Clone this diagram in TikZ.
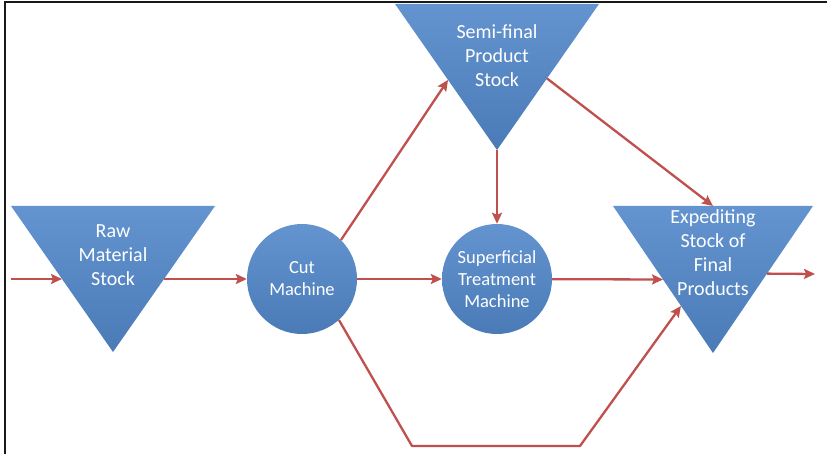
\documentclass[tikz,border=0pt]{standalone}
\usepackage{fontspec}
\setmainfont{Carlito}
\usetikzlibrary{arrows.meta,calc}
\definecolor{boxblue}{HTML}{4F81BD}
\definecolor{boxlight}{HTML}{6394CF}
\definecolor{boxdark}{HTML}{4A7BB7}
\definecolor{flowred}{HTML}{C0504D}
\begin{document}
\begin{tikzpicture}[x=1pt,y=-1pt,
  stock/.style={top color=boxlight,middle color=boxblue,bottom color=boxdark},
  machine/.style={circle,minimum size=110pt,inner sep=0pt,
    top color=boxlight,middle color=boxblue,bottom color=boxdark,
    text=white,align=center,font=\fontsize{18.5}{22}\selectfont},
  lbl/.style={text=white,align=center,inner sep=0pt,font=\fontsize{20}{24}\selectfont},
  flow/.style={draw=flowred,line width=2.3pt,line join=round,
    -{Stealth[length=11pt,width=10pt,inset=2pt]}}]
\useasboundingbox (0,0) rectangle (827,454);

% frame
\draw[line width=2pt,black!90] (4.5,454) -- (4.5,2.5) -- (827,2.5);

% stock triangles: corners
\coordinate (rawTL) at (11,206);  \coordinate (rawTR) at (215,206); \coordinate (rawB) at (113,352);
\coordinate (semTL) at (395,4);   \coordinate (semTR) at (599,4);   \coordinate (semB) at (497,150);
\coordinate (expTL) at (613,206); \coordinate (expTR) at (813,206); \coordinate (expB) at (713,353);

\path[stock] (rawTL) -- (rawTR) -- (rawB) -- cycle;
\path[stock] (semTL) -- (semTR) -- (semB) -- cycle;
\path[stock] (expTL) -- (expTR) -- (expB) -- cycle;

\node[lbl] (raw) at (113,255) {Raw\\Material\\Stock};
\node[lbl] (semi) at (497,56) {Semi-final\\Product\\Stock};
\node[lbl] (exped) at (713,253) {Expediting\\Stock of\\Final\\Products};

% machines
\node[machine] (cut) at (302,279) {Cut\\Machine};
\node[machine] (sup) at (497,279) {Superficial\\Treatment\\Machine};

% attachment points on the triangle edges
\coordinate (rawL) at ($(rawTL)!0.50!(rawB)$);
\coordinate (rawR) at ($(rawTR)!0.50!(rawB)$);
\coordinate (semL) at ($(semTL)!0.52!(semB)$);
\coordinate (semR) at ($(semTR)!0.51!(semB)$);
\coordinate (expT) at ($(expTL)!0.5!(expTR)$);
\coordinate (expL) at ($(expTL)!0.50!(expB)$);
\coordinate (expLL) at ($(expTL)!0.68!(expB)$);
\coordinate (expR) at ($(expTR)!0.46!(expB)$);

% free ends
\coordinate (inA) at (11,279);
\coordinate (outA) at (815,274);
\coordinate (bendA) at (412,446);
\coordinate (bendB) at (580,446);

% flows
\draw[flow] (inA) -- (rawL);
\draw[flow] (rawR) -- (cut);
\draw[flow] (cut.45) -- (semL);
\draw[flow] (cut) -- (sup);
\draw[flow] (semB) -- (sup);
\draw[flow] (semR) -- (expT);
\draw[flow] (sup) -- (expL);
\draw[flow] (cut.-48) -- (bendA) -- (bendB) -- (expLL);
\draw[flow] (expR) -- (outA);
\end{tikzpicture}
\end{document}
